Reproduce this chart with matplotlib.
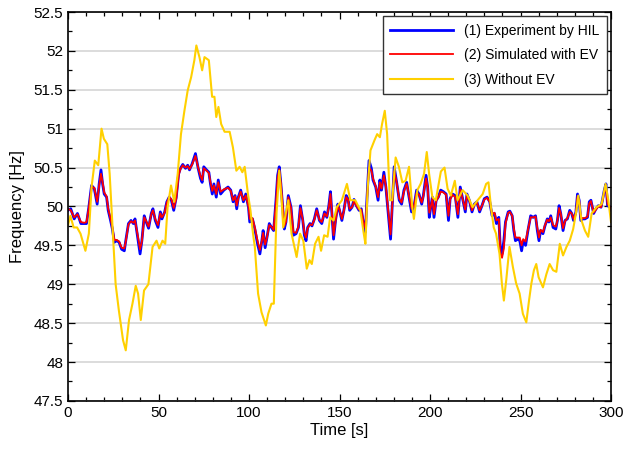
import numpy as np
import matplotlib
matplotlib.use('Agg')
import matplotlib.pyplot as plt
from matplotlib.ticker import MultipleLocator, FormatStrFormatter

plt.rcParams['font.family'] = ['Liberation Sans', 'DejaVu Sans']

# time axis shared by the HIL and EV simulation traces
t_ev = [0, 1.5, 3.4, 5.2, 7.1, 9.0, 10.2, 11.5, 13.0, 14.5,
        16.1, 17.2, 18.2, 19.1, 20.0, 21.3, 22.2, 23.5, 24.5, 25.6,
        26.9, 28.2, 29.6, 31.1, 31.9, 33.4, 34.8, 36.1, 37.0, 38.5,
        39.8, 40.8, 42.1, 43.2, 44.5, 46.0, 46.9, 48.2, 49.7, 51.0,
        51.9, 53.4, 54.6, 55.9, 57.1, 58.4, 59.8, 61.1, 62.1, 63.4,
        64.9, 66.1, 67.1, 68.6, 70.4, 71.9, 73.2, 74.1, 75.0, 76.5,
        77.8, 78.7, 79.7, 80.6, 81.9, 83.0, 84.3, 86.1, 88.4, 89.9,
        91.2, 92.3, 93.2, 94.1, 95.4, 96.9, 98.2, 99.7, 100.4, 101.9,
        103.2, 104.7, 106.0, 107.1, 107.8, 108.9, 109.9, 111.2, 112.4, 113.6,
        114.9, 115.8, 116.7, 117.6, 118.6, 119.5, 120.4, 121.7, 123.2, 124.5,
        126.0, 127.3, 128.4, 129.7, 130.6, 131.5, 132.4, 133.7, 134.8, 136.1,
        137.4, 138.9, 140.2, 141.7, 143.0, 144.1, 145.0, 146.0, 146.7, 147.8,
        149.1, 150.0, 151.3, 152.4, 153.7, 154.7, 155.6, 156.9, 158.0, 159.3,
        160.8, 162.0, 163.4, 164.3, 165.2, 166.3, 167.6, 168.5, 170.0, 171.3,
        172.3, 173.2, 174.5, 175.6, 176.9, 178.2, 179.3, 180.2, 181.5, 183.0,
        184.3, 185.6, 187.1, 188.4, 189.8, 191.1, 192.6, 193.9, 195.4, 196.3,
        197.8, 198.7, 199.6, 200.4, 201.3, 202.2, 203.4, 204.6, 205.9, 207.4,
        208.9, 210.2, 211.1, 212.4, 213.9, 215.4, 216.7, 218.2, 219.5, 220.4,
        221.7, 223.2, 224.5, 225.9, 227.4, 228.7, 230.0, 231.5, 233.0, 234.3,
        235.6, 236.7, 238.0, 238.9, 239.8, 240.8, 241.7, 243.2, 244.1, 245.4,
        246.3, 247.2, 248.5, 249.6, 250.6, 251.5, 252.8, 254.1, 255.6, 257.0,
        258.3, 259.3, 260.2, 261.1, 262.4, 263.5, 264.8, 265.7, 266.7, 268.0,
        269.5, 270.4, 271.3, 272.2, 273.5, 274.6, 275.9, 277.2, 278.3, 279.3,
        280.6, 281.5, 282.4, 283.3, 284.3, 285.6, 287.0, 288.0, 288.9, 290.4,
        291.7, 293.0, 294.5, 295.4, 296.3, 297.2, 298.1, 299.6, 300.0]

# (1) experiment by HIL
f_hil = [49.95, 49.97, 49.84, 49.91, 49.78, 49.78, 49.78, 49.99, 50.27, 50.23,
         50.03, 50.29, 50.47, 50.29, 50.16, 50.12, 49.95, 49.82, 49.71, 49.54,
         49.56, 49.54, 49.45, 49.43, 49.56, 49.78, 49.82, 49.78, 49.84, 49.60,
         49.39, 49.56, 49.88, 49.80, 49.72, 49.91, 49.97, 49.82, 49.73, 49.93,
         49.84, 49.93, 50.06, 50.12, 50.08, 49.95, 50.12, 50.42, 50.49, 50.54,
         50.49, 50.53, 50.47, 50.55, 50.68, 50.49, 50.36, 50.31, 50.51, 50.47,
         50.44, 50.29, 50.16, 50.29, 50.12, 50.34, 50.16, 50.21, 50.25, 50.21,
         50.06, 50.14, 49.97, 50.12, 50.21, 50.06, 50.16, 49.99, 49.80, 49.84,
         49.71, 49.52, 49.39, 49.56, 49.69, 49.47, 49.60, 49.78, 49.73, 49.69,
         50.08, 50.40, 50.51, 50.29, 49.99, 49.71, 49.80, 50.14, 49.99, 49.63,
         49.65, 49.73, 50.01, 49.82, 49.63, 49.56, 49.73, 49.78, 49.75, 49.84,
         49.97, 49.82, 49.78, 49.93, 49.86, 50.01, 50.19, 49.82, 49.58, 49.82,
         50.03, 49.95, 49.82, 49.95, 50.14, 50.10, 49.95, 49.99, 50.09, 50.01,
         49.95, 49.97, 49.75, 49.67, 50.12, 50.59, 50.49, 50.34, 50.25, 50.08,
         50.34, 50.21, 50.44, 50.25, 49.91, 49.58, 50.10, 50.51, 50.32, 50.08,
         50.03, 50.21, 50.31, 50.12, 49.93, 49.99, 50.21, 50.16, 50.03, 50.14,
         50.40, 50.25, 49.86, 49.99, 50.12, 49.86, 50.08, 50.12, 50.21, 50.19,
         50.16, 49.82, 50.10, 50.16, 50.14, 49.86, 50.25, 50.08, 49.93, 50.16,
         50.08, 49.93, 50.03, 50.06, 49.93, 50.01, 50.10, 50.12, 50.06, 49.88,
         49.91, 49.78, 49.86, 49.43, 49.39, 49.56, 49.80, 49.93, 49.94, 49.88,
         49.69, 49.56, 49.58, 49.56, 49.43, 49.56, 49.50, 49.69, 49.88, 49.86,
         49.88, 49.69, 49.56, 49.69, 49.65, 49.75, 49.84, 49.80, 49.88, 49.73,
         49.71, 49.82, 50.01, 49.91, 49.69, 49.82, 49.84, 49.95, 49.91, 49.82,
         49.93, 50.16, 50.08, 49.82, 49.84, 49.84, 49.86, 50.06, 50.08, 49.91,
         49.97, 50.01, 49.99, 50.10, 50.21, 50.29, 50.01, 49.99, 49.95]

# (2) simulated with EV
f_sim = [49.97, 49.95, 49.86, 49.90, 49.80, 49.79, 49.80, 49.98, 50.25, 50.24,
         50.06, 50.27, 50.42, 50.31, 50.18, 50.13, 49.97, 49.84, 49.73, 49.57,
         49.57, 49.55, 49.47, 49.46, 49.55, 49.77, 49.81, 49.79, 49.82, 49.63,
         49.45, 49.55, 49.86, 49.81, 49.74, 49.90, 49.95, 49.84, 49.76, 49.91,
         49.86, 49.92, 50.05, 50.12, 50.09, 49.98, 50.10, 50.40, 50.48, 50.53,
         50.50, 50.52, 50.48, 50.54, 50.65, 50.50, 50.39, 50.34, 50.49, 50.46,
         50.43, 50.31, 50.20, 50.27, 50.16, 50.31, 50.19, 50.22, 50.24, 50.20,
         50.08, 50.13, 50.01, 50.11, 50.19, 50.08, 50.14, 50.00, 49.84, 49.85,
         49.73, 49.56, 49.44, 49.56, 49.66, 49.51, 49.60, 49.76, 49.74, 49.70,
         50.05, 50.37, 50.48, 50.30, 50.02, 49.75, 49.80, 50.12, 49.98, 49.67,
         49.66, 49.74, 49.98, 49.83, 49.66, 49.60, 49.72, 49.77, 49.76, 49.83,
         49.95, 49.83, 49.80, 49.91, 49.87, 49.99, 50.16, 49.84, 49.63, 49.81,
         50.01, 49.96, 49.84, 49.94, 50.12, 50.09, 49.97, 49.99, 50.07, 50.01,
         49.96, 49.96, 49.78, 49.72, 50.10, 50.50, 50.46, 50.36, 50.26, 50.12,
         50.31, 50.23, 50.40, 50.26, 49.95, 49.64, 50.08, 50.45, 50.32, 50.10,
         50.05, 50.19, 50.29, 50.14, 49.97, 50.00, 50.18, 50.15, 50.05, 50.13,
         50.36, 50.24, 49.92, 49.99, 50.10, 49.90, 50.07, 50.12, 50.19, 50.18,
         50.15, 49.88, 50.09, 50.15, 50.12, 49.90, 50.22, 50.08, 49.96, 50.14,
         50.08, 49.95, 50.02, 50.05, 49.95, 50.01, 50.09, 50.11, 50.06, 49.90,
         49.92, 49.82, 49.84, 49.40, 49.34, 49.46, 49.78, 49.92, 49.93, 49.88,
         49.72, 49.60, 49.60, 49.60, 49.50, 49.58, 49.55, 49.70, 49.86, 49.86,
         49.87, 49.72, 49.60, 49.70, 49.67, 49.76, 49.83, 49.81, 49.86, 49.76,
         49.74, 49.82, 49.98, 49.91, 49.72, 49.81, 49.85, 49.93, 49.91, 49.84,
         49.92, 50.13, 50.08, 49.85, 49.85, 49.85, 49.87, 50.04, 50.07, 49.92,
         49.96, 50.00, 49.99, 50.08, 50.19, 50.25, 50.03, 49.99, 49.96]

# (3) without EV
t_noev = [0, 1.3, 3.1, 5.0, 6.9, 9.6, 11.5, 13.0, 14.8, 16.7,
          18.5, 19.8, 21.7, 23.0, 24.4, 26.3, 28.1, 30.4, 31.9, 33.7,
          35.6, 37.4, 38.7, 40.2, 42.0, 44.4, 46.7, 48.9, 50.4, 52.2,
          53.7, 55.0, 56.9, 58.7, 60.6, 62.4, 64.3, 66.1, 68.0, 69.8,
          70.9, 72.6, 74.1, 75.4, 77.8, 79.6, 80.9, 81.9, 83.1, 84.6,
          86.5, 89.3, 91.1, 93.0, 94.8, 96.3, 97.6, 99.4, 100.8, 102.2,
          103.2, 105.0, 106.9, 109.3, 110.6, 112.4, 113.7, 115.2, 116.7, 118.0,
          118.9, 121.7, 123.5, 126.3, 128.2, 130.0, 131.9, 133.4, 134.7, 136.5,
          138.4, 139.8, 141.5, 143.4, 144.8, 146.7, 148.5, 151.3, 154.1, 156.0,
          158.7, 161.5, 163.4, 164.3, 165.6, 167.1, 169.3, 170.8, 172.3, 173.5,
          175.0, 176.3, 177.8, 179.1, 181.0, 182.8, 184.7, 186.5, 188.4, 190.2,
          191.1, 193.0, 194.8, 196.7, 198.2, 199.5, 201.3, 203.2, 206.0, 208.0,
          209.7, 211.5, 213.7, 215.2, 218.0, 220.8, 223.5, 226.3, 229.1, 231.0,
          232.3, 233.7, 235.2, 236.5, 238.4, 239.7, 240.8, 242.1, 243.9, 245.8,
          247.6, 249.5, 251.3, 253.2, 254.7, 256.0, 257.4, 258.7, 260.0, 262.4,
          264.3, 266.1, 268.0, 269.8, 271.7, 273.5, 275.4, 277.2, 279.1, 280.9,
          281.9, 283.7, 285.6, 287.4, 289.3, 292.0, 294.8, 297.0, 298.5, 300.0]
f_noev = [49.76, 49.88, 49.73, 49.73, 49.65, 49.43, 49.65, 50.25, 50.59, 50.53,
          51.00, 50.87, 50.80, 50.42, 49.82, 49.00, 48.66, 48.28, 48.15, 48.54,
          48.75, 48.98, 48.88, 48.54, 48.92, 49.00, 49.48, 49.56, 49.46, 49.56,
          49.52, 49.99, 50.27, 50.06, 50.42, 50.93, 51.23, 51.49, 51.66, 51.88,
          52.07, 51.92, 51.75, 51.92, 51.88, 51.41, 51.41, 51.15, 51.28, 51.06,
          50.96, 50.96, 50.76, 50.46, 50.51, 50.44, 50.51, 50.16, 49.95, 49.65,
          49.48, 48.88, 48.64, 48.47, 48.62, 48.75, 48.75, 49.91, 50.46, 50.08,
          49.73, 50.08, 49.65, 49.35, 49.65, 49.56, 49.20, 49.31, 49.26, 49.52,
          49.61, 49.43, 49.63, 49.61, 49.86, 49.82, 49.99, 50.08, 50.29, 50.08,
          50.08, 49.95, 49.65, 49.52, 50.25, 50.72, 50.85, 50.93, 50.89, 51.06,
          51.23, 50.93, 50.08, 50.08, 50.63, 50.51, 50.31, 50.33, 50.51, 49.99,
          49.84, 50.21, 50.29, 50.42, 50.70, 50.42, 50.12, 50.08, 50.45, 50.50,
          50.23, 50.14, 50.33, 50.08, 50.21, 50.14, 49.99, 50.08, 50.16, 50.29,
          50.31, 49.99, 49.73, 49.65, 49.39, 49.01, 48.79, 49.05, 49.48, 49.22,
          49.01, 48.88, 48.62, 48.51, 48.79, 49.01, 49.18, 49.26, 49.09, 48.96,
          49.13, 49.26, 49.18, 49.16, 49.52, 49.37, 49.48, 49.56, 49.71, 49.95,
          50.14, 49.82, 49.69, 49.61, 49.91, 49.99, 50.03, 50.29, 50.08, 49.80]

fig = plt.figure(figsize=(6.27, 4.53), dpi=100)
ax = fig.add_axes([0.1085, 0.115, 0.866, 0.8585])

ax.plot(t_ev, f_hil, color='#0000FF', lw=2.0, label='(1) Experiment by HIL')
ax.plot(t_ev, f_sim, color='#FF0000', lw=1.3, label='(2) Simulated with EV')
ax.plot(t_noev, f_noev, color='#FFD000', lw=1.5, label='(3) Without EV')

ax.set_xlim(0, 300)
ax.set_ylim(47.5, 52.5)
ax.xaxis.set_major_locator(MultipleLocator(50))
ax.xaxis.set_minor_locator(MultipleLocator(10))
ax.yaxis.set_major_locator(MultipleLocator(0.5))
ax.yaxis.set_minor_locator(MultipleLocator(0.25))
ax.yaxis.set_major_formatter(FormatStrFormatter('%g'))
ax.tick_params(which='both', direction='in', top=True, right=True,
               labelsize=11, width=0.9)
ax.tick_params(which='major', length=5)
ax.tick_params(which='minor', length=3)
ax.yaxis.grid(True, which='major', color='#d9d9d9', lw=1.3)
ax.set_axisbelow(True)
for s in ax.spines.values():
    s.set_linewidth(1.2)

ax.set_xlabel('Time [s]', fontsize=12, labelpad=2)
ax.set_ylabel('Frequency [Hz]', fontsize=12, labelpad=6)

leg = ax.legend(loc='upper right', fontsize=10, handlelength=4.5,
                fancybox=False, framealpha=1, edgecolor='#333333',
                borderpad=0.55, labelspacing=0.75, borderaxespad=0.3)
leg.get_frame().set_linewidth(1.0)

fig.savefig('out.png', dpi=100)
